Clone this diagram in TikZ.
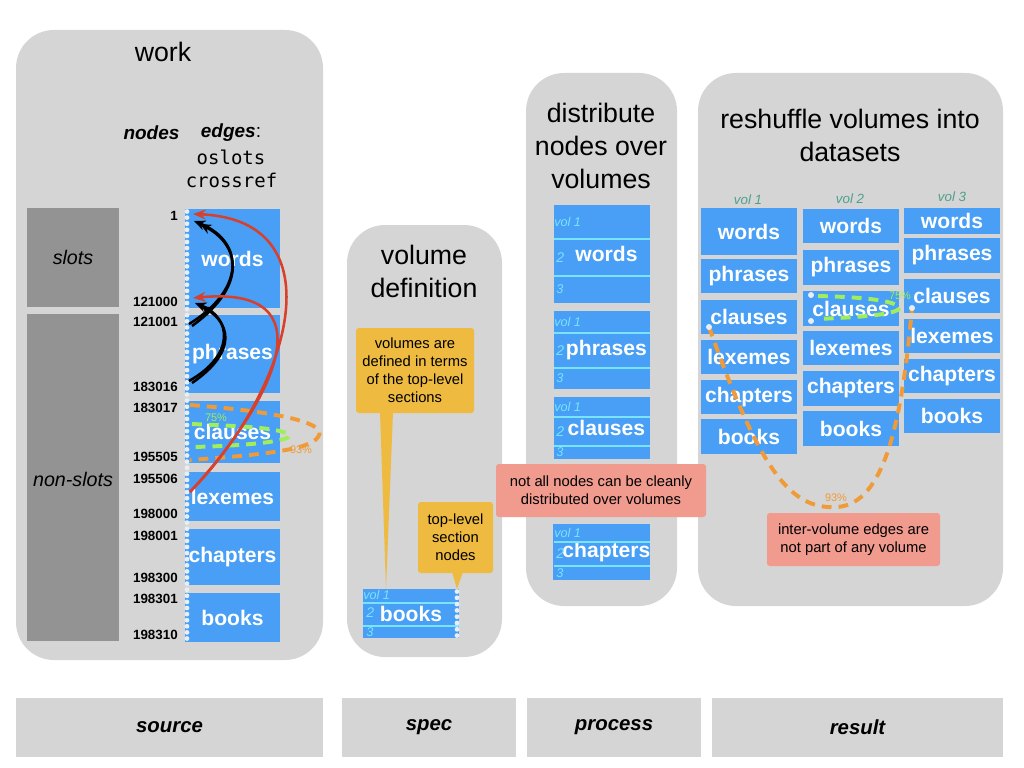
\documentclass[tikz,border=0pt]{standalone}
\usepackage{fontspec}
\setmainfont{Liberation Sans}
\setmonofont{DejaVu Sans Mono}
\usetikzlibrary{arrows.meta}
\definecolor{panelgrey}{RGB}{213,213,213}
\definecolor{darkgrey}{RGB}{147,147,147}
\definecolor{boxblue}{RGB}{72,159,245}
\definecolor{volcyan}{RGB}{120,228,255}
\definecolor{callyellow}{RGB}{238,187,64}
\definecolor{callred}{RGB}{241,154,142}
\definecolor{edgeorange}{RGB}{241,154,56}
\definecolor{edgegreen}{RGB}{160,238,90}
\definecolor{arrowred}{RGB}{216,64,43}
\definecolor{volteal}{RGB}{78,160,140}
\definecolor{dotwhite}{RGB}{232,238,246}
\newcommand{\fsz}[2]{\fontsize{#1}{#2}\selectfont}
\begin{document}
\begin{tikzpicture}[x=0.025cm,y=-0.025cm,
	panel/.style={fill=panelgrey, rounded corners=0.95cm, inner sep=0pt},
	dims/.style 2 args={minimum width=(#1)*0.025cm, minimum height=(#2)*0.025cm},
	bar/.style={fill=panelgrey, inner sep=0pt, font=\bfseries\itshape\fsz{14.5}{17}},
	heading/.style={align=center, font=\fsz{19}{23.5}},
	tier/.style={fill=darkgrey, inner sep=0pt, font=\itshape\fsz{14}{17}},
	blk/.style={fill=boxblue, text=white, inner sep=0pt, font=\bfseries\fsz{15}{17}},
	num/.style={anchor=east, inner sep=0pt, font=\bfseries\fsz{9.5}{11}},
	vol/.style={anchor=west, inner sep=0pt, text=volcyan, font=\itshape\fsz{9}{10}},
	yellownote/.style={fill=callyellow, rounded corners=2pt, inner sep=0pt, align=center, font=\fsz{10.5}{12.8}},
	rednote/.style={fill=callred, rounded corners=2pt, inner sep=0pt, align=center, font=\fsz{10.5}{12.8}},
	oslot/.style={black, line width=1.8pt, -{Stealth[length=8pt,width=7pt]}},
	xref/.style={arrowred, line width=1.8pt, -{Stealth[length=9pt,width=7pt]}},
	share/.style={line width=2.8pt, dash pattern=on 7pt off 5pt},
	pct/.style={inner sep=0pt, font=\fsz{7.8}{9}}
	]
	\useasboundingbox (0,0) rectangle (1024,768);
	%\draw [help lines, step=100] (0,0) grid (1024,768);

	\node[panel, dims={307}{630}] (work) at (169.5,345) {};
	\node[panel, dims={155}{432}] (voldef) at (424.5,441) {};
	\node[panel, dims={151}{533}] (distr) at (601.5,339.5) {};
	\node[panel, dims={305}{533}] (reshuf) at (850.5,339.5) {};

	\node[bar, dims={307}{59}] (source) at (169.5,727.5) {source};
	\node[bar, dims={174}{59}] (spec) at (429,727.5) {spec};
	\node[bar, dims={174}{59}] (process) at (614,727.5) {process};
	\node[bar, dims={291}{59}] (result) at (857.5,727.5) {result};

	% source
	\node[heading] (worktitle) at (163,52) {work};
	\node[font=\bfseries\itshape\fsz{13.5}{16}] (nodeshd) at (151.5,133) {nodes};
	\node[font=\fsz{13.5}{16}] (edgeshd) at (231,133) {\textbf{\textit{edges}}:};
	\node[font=\ttfamily\fsz{13.5}{16}] (oslots) at (231,157) {oslots};
	\node[font=\ttfamily\fsz{13.5}{16}] (crossref) at (231.5,180) {crossref};

	\node[tier, dims={92}{99}] (slots) at (73,257.5) {slots};
	\node[tier, dims={92}{327}] (nonslots) at (73,477.5) {};
	\node at (73,479) [font=\itshape\fsz{14}{17}] (nonslotslbl) {non-slots};

	\node[blk, dims={95}{99}] (words) at (232.5,258.5) {words};
	\node[blk, dims={95}{78}] (phrases) at (232.5,354) {phrases};
	\node[blk, dims={95}{62}] (clauses) at (232.5,432) {clauses};
	\node[blk, dims={95}{49}] (lexemes) at (232.5,496.5) {lexemes};
	\node[blk, dims={95}{56}] (chapters) at (232.5,557) {chapters};
	\node[blk, dims={95}{49}] (books) at (232.5,617.5) {books};

	\foreach \i in {0,...,70}
		\fill[dotwhite] (187,211.5+6.1*\i) circle (2.4);

	\foreach \v/\y in {1/216, 121000/302, 121001/322, 183016/387, 183017/408, 195505/457, 195506/479, 198000/514, 198001/536, 198300/578, 198301/599, 198310/635}
		\node[num] (n\v) at (178,\y) {\v};

	\coordinate (og) at (190,405);
	\coordinate (ogend) at (190,460);
	\coordinate (gg) at (192,424);
	\coordinate (ggend) at (192,447);
	\draw[share, edgeorange] (og) .. controls (270,411) and (330,422) .. (318,437) .. controls (310,450) and (260,455) .. (ogend);
	\draw[share, edgegreen] (gg) .. controls (240,426) and (286,428) .. (290,436) .. controls (286,442) and (240,446) .. (ggend);
	\node[pct, text=edgegreen] (p75) at (216,418) {75\%};
	\node[pct, text=edgeorange] (p93) at (301,450) {93\%};

	\coordinate (ph1) at (189,324);
	\coordinate (ph2) at (192,326);
	\coordinate (ph3) at (189,381);
	\coordinate (ph4) at (192,383);
	\coordinate (wd1) at (194,221);
	\coordinate (wd2) at (200,224);
	\coordinate (wd3) at (195,303);
	\coordinate (wd4) at (201,306);
	\draw[oslot] (ph1) .. controls (245,290) and (245,242) .. (wd1);
	\draw[oslot] (ph2) .. controls (250,284) and (238,244) .. (wd2);
	\draw[oslot] (ph3) .. controls (235,355) and (232,318) .. (wd3);
	\draw[oslot] (ph4) .. controls (240,350) and (228,322) .. (wd4);

	\coordinate (lx) at (190,492);
	\coordinate (ref1) at (193,214);
	\coordinate (ref2) at (193,298);
	\draw[xref] (lx) .. controls (290,390) and (340,220) .. (ref1);
	\draw[xref] (lx) .. controls (275,400) and (330,285) .. (ref2);

	% spec
	\node[heading] (deftitle) at (424,271.5) {volume\\definition};
	\node[yellownote, dims={118}{85}] (volnote) at (415,370.5) {volumes are\\defined in terms\\of the top-level\\sections};
	\node[yellownote, dims={75}{71}] (topnote) at (455.5,537.5) {top-level\\section\\nodes};
	\coordinate (tipa) at (386,589);
	\coordinate (tipb) at (457,589);
	\fill[callyellow] (380,412) -- (tipa) -- (393,412) -- cycle;
	\fill[callyellow] (452,572) -- (tipb) -- (463,572) -- cycle;

	\node[blk, dims={96}{49}] (vbooks) at (411,613.5) {books};
	\draw[volcyan, line width=0.8pt] (363,603) -- (459,603) (363,626) -- (459,626);
	\node[vol] (vb1) at (363,595) {vol 1};
	\node[vol, font=\itshape\fsz{10}{11}] (vb2) at (366,613) {2};
	\node[vol] (vb3) at (366,632) {3};
	\foreach \i in {0,...,7}
		\fill[dotwhite] (457,591.5+6.3*\i) circle (2.4);

	% process
	\node[heading] (distitle) at (601,146) {distribute\\nodes over\\volumes};
	\foreach \n/\t/\a/\b/\la/\lb in {dwords/words/205/303/239/276, dphrases/phrases/311/389/333/368, dclauses/clauses/397/459/417/446, dchapters/chapters/524/580/542/566}
	{
		\node[blk, dims={96}{\b-\a}] (\n) at (601.5,{(\a+\b)/2}) {\hspace{7pt}\t};
		\draw[volcyan, line width=0.8pt] (553.5,\la) -- (649.5,\la) (553.5,\lb) -- (649.5,\lb);
		\node[vol] (\n1) at (554,{(\a+\la)/2}) {vol 1};
		\node[vol, font=\itshape\fsz{10}{11}] (\n2) at (556,{(\la+\lb)/2}) {2};
		\node[vol] (\n3) at (556,{(\lb+\b)/2}) {3};
	}
	\node[rednote, dims={210}{53}] (notclean) at (601,490.5) {not all nodes can be cleanly\\distributed over volumes};

	% result
	\node[heading] (restitle) at (850,135) {reshuffle volumes into\\datasets};
	\node[text=volteal, font=\itshape\fsz{9.5}{11}] (rv1) at (748,200) {vol 1};
	\node[text=volteal, font=\itshape\fsz{9.5}{11}] (rv2) at (850,199) {vol 2};
	\node[text=volteal, font=\itshape\fsz{9.5}{11}] (rv3) at (952,197) {vol 3};
	\foreach \t/\a/\b in {words/208/255, phrases/259/293, clauses/300/334, lexemes/340/374, chapters/380/414, books/419/454}
		\node[blk, dims={96}{\b-\a}] (a\t) at (749,{(\a+\b)/2}) {\t};
	\foreach \t/\a/\b in {words/209/243, phrases/250/285, clauses/291/326, lexemes/331/365, chapters/371/406, books/411/446}
		\node[blk, dims={96}{\b-\a}] (b\t) at (851,{(\a+\b)/2}) {\t};
	\foreach \t/\a/\b in {words/208/234, phrases/238/273, clauses/279/313, lexemes/319/353, chapters/359/393, books/399/433}
		\node[blk, dims={96}{\b-\a}] (c\t) at (952,{(\a+\b)/2}) {\t};

	\coordinate (e1) at (709,327);
	\coordinate (e2) at (912,308);
	\coordinate (g1) at (811,295);
	\coordinate (g2) at (811,321);
	\draw[share, edgeorange] (e1) .. controls (760,470) and (790,510) .. (837,507) .. controls (885,504) and (902,420) .. (e2);
	\draw[share, edgegreen] (818,296) .. controls (860,297) and (895,300) .. (900,308) .. controls (895,315) and (860,317) .. (818,319);
	\foreach \p in {e1,e2,g1,g2}
		\fill[dotwhite] (\p) circle (3);
	\node[pct, text=edgeorange] (q93) at (836,498) {93\%};
	\node[pct, text=edgegreen] (q75) at (900,296) {75\%};

	\node[rednote, dims={173}{53}] (interedge) at (853.5,539.5) {inter-volume edges are\\not part of any volume};
\end{tikzpicture}
\end{document}
